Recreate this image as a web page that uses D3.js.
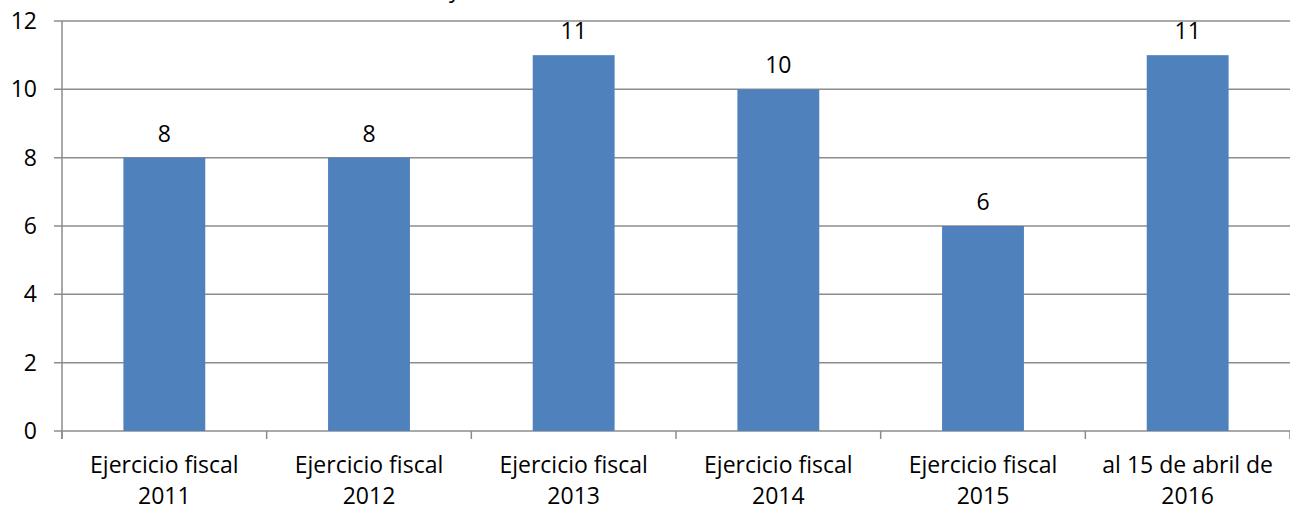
<!DOCTYPE html>
<html>
<head>
<meta charset="utf-8">
<script src="https://cdn.jsdelivr.net/npm/d3@7"></script>
<style>
body { margin: 0; background: #fff; }
text { font-family: "Open Sans", "Noto Sans", sans-serif; fill: #000; }
</style>
</head>
<body>
<div id="chart"></div>
<script>
// categories, two lines each
var categories = [
	["Ejercicio fiscal", "2011"],
	["Ejercicio fiscal", "2012"],
	["Ejercicio fiscal", "2013"],
	["Ejercicio fiscal", "2014"],
	["Ejercicio fiscal", "2015"],
	["al 15 de abril de", "2016"]
];
var values = [8, 8, 11, 10, 6, 11];
var y_ticks = [0, 2, 4, 6, 8, 10, 12];

var width = 1290, height = 508;
var margin = {top: 21, right: 0, bottom: 77, left: 62};
var font_size = "23px";

var svg = d3.select("#chart")
	.append("svg")
	.attr("width", width)
	.attr("height", height);

var x = d3.scaleBand()
	.domain(d3.range(categories.length))
	.range([margin.left, width - margin.right])
	.paddingInner(0.6)
	.paddingOuter(0.3);

var y = d3.scaleLinear()
	.domain([0, 12])
	.range([height - margin.bottom, margin.top]);

// cut off title fragment at the very top
svg.append("text")
	.attr("x", 449)
	.attr("y", -3)
	.style("font-size", font_size)
	.text("y");

// gridlines
svg.selectAll(".grid")
	.data(y_ticks)
	.enter()
	.append("line")
	.attr("x1", margin.left - 8)
	.attr("x2", width)
	.attr("y1", function(d){ return y(d); })
	.attr("y2", function(d){ return y(d); })
	.style("stroke", "#8c8c8c")
	.style("stroke-width", 1.5);

// y axis line
svg.append("line")
	.attr("x1", margin.left)
	.attr("x2", margin.left)
	.attr("y1", y(12))
	.attr("y2", y(0) + 8)
	.style("stroke", "#8c8c8c")
	.style("stroke-width", 1.5);

// x ticks between categories
var step = x.step();
svg.selectAll(".xtick")
	.data(d3.range(categories.length + 1))
	.enter()
	.append("line")
	.attr("x1", function(i){ return margin.left + i * step; })
	.attr("x2", function(i){ return margin.left + i * step; })
	.attr("y1", y(0))
	.attr("y2", y(0) + 8)
	.style("stroke", "#8c8c8c")
	.style("stroke-width", 1.5);

// y tick labels
svg.selectAll(".ylabel")
	.data(y_ticks)
	.enter()
	.append("text")
	.attr("x", 37)
	.attr("y", function(d){ return y(d) + 8; })
	.attr("text-anchor", "end")
	.style("font-size", font_size)
	.text(function(d){ return d; });

// bars
svg.selectAll(".bar")
	.data(values)
	.enter()
	.append("rect")
	.attr("x", function(d, i){ return x(i); })
	.attr("y", function(d){ return y(d); })
	.attr("width", x.bandwidth())
	.attr("height", function(d){ return y(0) - y(d); })
	.style("fill", "#4f81bd");

// value labels
svg.selectAll(".val")
	.data(values)
	.enter()
	.append("text")
	.attr("x", function(d, i){ return x(i) + x.bandwidth() / 2; })
	.attr("y", function(d){ return y(d) - 16; })
	.attr("text-anchor", "middle")
	.style("font-size", font_size)
	.text(function(d){ return d; });

// category labels
var cat = svg.selectAll(".cat")
	.data(categories)
	.enter()
	.append("text")
	.attr("text-anchor", "middle")
	.style("font-size", font_size);
cat.each(function(d, i){
	var cx = x(i) + x.bandwidth() / 2;
	d3.select(this).selectAll("tspan")
		.data(d)
		.enter()
		.append("tspan")
		.attr("x", cx)
		.attr("y", function(t, k){ return 473 + k * 31; })
		.text(function(t){ return t; });
});
</script>
</body>
</html>
